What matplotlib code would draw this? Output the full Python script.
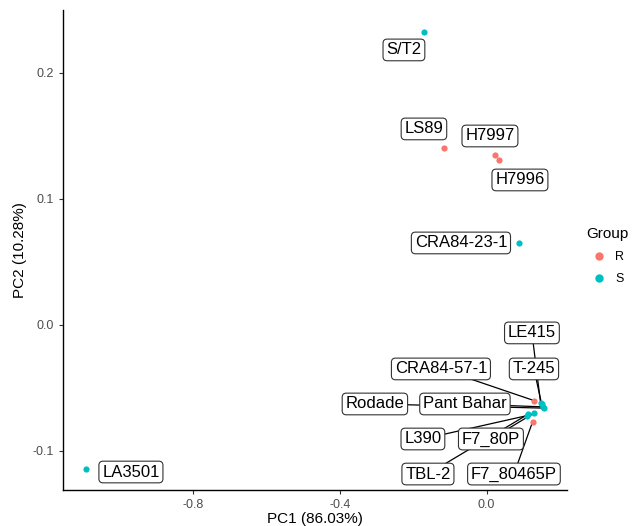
import matplotlib
matplotlib.use("Agg")
import matplotlib.pyplot as plt
from matplotlib.lines import Line2D

plt.rcParams['font.family'] = ['Liberation Sans', 'DejaVu Sans']
plt.rcParams['axes.unicode_minus'] = False

# PCA scores
names = ['S/T2', 'LS89', 'H7997', 'H7996', 'CRA84-23-1', 'LE415', 'T-245',
         'CRA84-57-1', 'Rodade', 'Pant Bahar', 'L390', 'F7_80P', 'TBL-2',
         'F7_80465P', 'LA3501']
pc1 = [-0.171, -0.116, 0.023, 0.034, 0.088, 0.147, 0.150,
       0.129, 0.156, 0.154, 0.109, 0.129, 0.112, 0.125, -1.092]
pc2 = [0.2325, 0.1405, 0.135, 0.131, 0.065, -0.062, -0.063,
       -0.060, -0.066, -0.065, -0.072, -0.070, -0.071, -0.077, -0.114]
group = ['S', 'R', 'R', 'R', 'S', 'S', 'S',
         'R', 'S', 'S', 'S', 'S', 'S', 'R', 'S']

colors = {'R': '#F8766D', 'S': '#00BFC4'}

# where the repelled labels sit (layout only)
label_pos = {
  'S/T2': (-0.2253, 0.2183),
  'LS89': (-0.1708, 0.1556),
  'H7997': (0.0090, 0.1500),
  'H7996': (0.0907, 0.1151),
  'CRA84-23-1': (-0.0700, 0.0651),
  'LE415': (0.1234, -0.0063),
  'T-245': (0.1289, -0.0349),
  'CRA84-57-1': (-0.1245, -0.0349),
  'Rodade': (-0.3044, -0.0627),
  'Pant Bahar': (-0.0591, -0.0627),
  'L390': (-0.1736, -0.0905),
  'F7_80P': (0.0117, -0.0905),
  'TBL-2': (-0.1599, -0.1183),
  'F7_80465P': (0.0744, -0.1183),
  'LA3501': (-0.9690, -0.1167),
}
with_segment = {'LE415', 'T-245', 'CRA84-57-1', 'Rodade', 'Pant Bahar',
                'L390', 'F7_80P', 'TBL-2', 'F7_80465P'}


def plot_chart():
  fig = plt.figure(figsize=(6.32, 5.26), dpi=100)
  ax = fig.add_axes([0.0997, 0.0684, 0.7975, 0.9126])

  for name, x, y in zip(names, pc1, pc2):
    if name in with_segment:
      lx, ly = label_pos[name]
      ax.plot([lx, x], [ly, y], color='black', lw=0.9, zorder=1)

  for g in ['R', 'S']:
    xs = [x for x, gg in zip(pc1, group) if gg == g]
    ys = [y for y, gg in zip(pc2, group) if gg == g]
    ax.scatter(xs, ys, s=20, color=colors[g], zorder=2, linewidths=0)

  for name in names:
    lx, ly = label_pos[name]
    ax.text(lx, ly, name, ha='center', va='center', fontsize=12, zorder=3,
            bbox=dict(boxstyle='round,pad=0.2,rounding_size=0.25',
                      fc='white', ec='#333333', lw=0.8))

  ax.set_xlim(-1.154, 0.219)
  ax.set_ylim(-0.131, 0.25)
  ax.set_xticks([-0.8, -0.4, 0.0])
  ax.set_xticklabels(['-0.8', '-0.4', '0.0'])
  ax.set_yticks([-0.1, 0.0, 0.1, 0.2])
  ax.set_yticklabels(['-0.1', '0.0', '0.1', '0.2'])
  ax.tick_params(colors='#333333', labelcolor='#4D4D4D', labelsize=9,
                 length=3, width=0.8)
  for side in ['top', 'right']:
    ax.spines[side].set_visible(False)
  for side in ['left', 'bottom']:
    ax.spines[side].set_linewidth(1.0)

  ax.set_xlabel('PC1 (86.03%)', fontsize=11, labelpad=1)
  ax.set_ylabel('PC2 (10.28%)', fontsize=11, labelpad=4)

  handles = [Line2D([], [], marker='o', ls='', color=colors[g],
                    markersize=5, label=g) for g in ['R', 'S']]
  leg = fig.legend(handles=handles, title='Group', loc='upper left',
                   bbox_to_anchor=(0.91, 0.59), frameon=False, fontsize=9,
                   title_fontsize=11, handletextpad=0.3, labelspacing=0.8)
  leg._legend_box.align = 'left'

  fig.savefig('out.png', dpi=100)


if __name__ == '__main__':
  plot_chart()
